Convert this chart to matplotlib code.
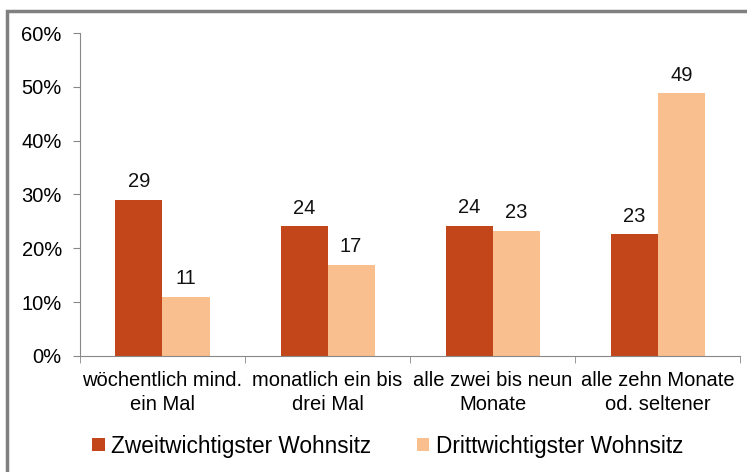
import numpy as np
import matplotlib.pyplot as plt
from matplotlib.patches import Rectangle

categories = ['wöchentlich mind.\nein Mal', 'monatlich ein bis\ndrei Mal',
              'alle zwei bis neun\nMonate', 'alle zehn Monate\nod. seltener']
zweit = [29.0, 24.1, 24.2, 22.6]
dritt = [11.0, 16.9, 23.3, 48.8]
zweit_labels = ['29', '24', '24', '23']
dritt_labels = ['11', '17', '23', '49']

plt.rcParams['font.family'] = ['Liberation Sans', 'DejaVu Sans']

fig = plt.figure(figsize=(7.47, 4.72), dpi=100)
ax = fig.add_axes([0.107, 0.246, 0.884, 0.684])

x = np.arange(len(categories))
w = 0.285
b1 = ax.bar(x - w/2, zweit, w, color='#C3461A', label='Zweitwichtigster Wohnsitz')
b2 = ax.bar(x + w/2, dritt, w, color='#F9BF8F', label='Drittwichtigster Wohnsitz')

for bars, labs in ((b1, zweit_labels), (b2, dritt_labels)):
    for r, t in zip(bars, labs):
        ax.text(r.get_x() + r.get_width()/2, r.get_height() + 1.6, t,
                ha='center', va='bottom', fontsize=14.5, color='#111111')

ax.set_xlim(-0.5, len(categories) - 0.5)
ax.set_ylim(0, 60)
ax.set_yticks(np.arange(0, 61, 10))
ax.set_yticklabels(['%d%%' % v for v in range(0, 61, 10)], fontsize=14.5)
ax.set_xticks(x)
ax.set_xticklabels(categories, fontsize=14.5, linespacing=1.3)
ax.set_xticks(np.arange(-0.5, len(categories)), minor=True)
ax.tick_params(axis='x', which='major', length=0, pad=11)
ax.tick_params(axis='x', which='minor', length=5, color='#888888', direction='out')
ax.tick_params(axis='y', length=5, color='#888888', pad=8)
for s in ['top', 'right']:
    ax.spines[s].set_visible(False)
for s in ['left', 'bottom']:
    ax.spines[s].set_color('#888888')

fig.legend(handles=[b1, b2], loc='center', bbox_to_anchor=(0.519, 0.055), ncol=2,
           frameon=False, fontsize=16.3, handlelength=0.55, handleheight=0.55,
           handletextpad=0.3, columnspacing=2.0)

fig.patches.append(Rectangle((7/747, -0.02), 1.0, 1.0 - 11/472 + 0.02,
                             transform=fig.transFigure, fill=False,
                             edgecolor='#808080', lw=2.5))

fig.savefig('out.png', dpi=100)
